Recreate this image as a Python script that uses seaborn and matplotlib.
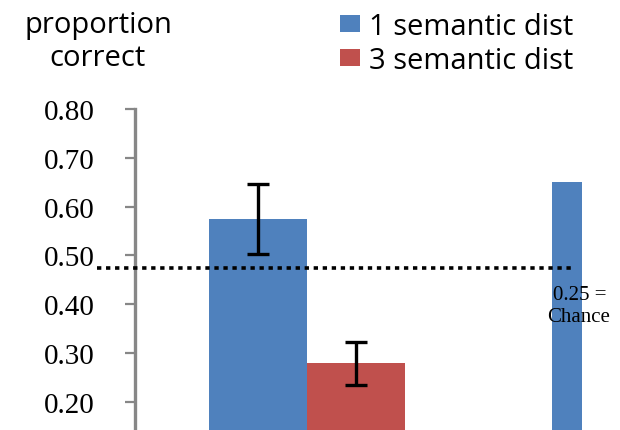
import matplotlib
matplotlib.use("Agg")
import matplotlib.pyplot as plt
import seaborn as sns
import pandas as pd

# ---- data ----
conditions = ["items", "items"]
series = ["1 semantic dist", "3 semantic dist"]
values = [0.575, 0.28]
err_low = [0.503, 0.235]
err_high = [0.646, 0.323]
extra_bar_value = 0.65
chance_line = 0.475
yticks = [0.20, 0.30, 0.40, 0.50, 0.60, 0.70, 0.80]
ytick_labels = ["0.20", "0.30", "0.40", "0.50", "0.60", "0.70", "0.80"]

BLUE = "#4F81BD"
RED = "#C0504D"
GRAY = "#878787"

sns.set_style("white")
plt.rcParams["font.family"] = ["DejaVu Sans"]
plt.rcParams["text.color"] = "black"
plt.rcParams["ytick.labelcolor"] = "black"

df = pd.DataFrame({"cond": conditions, "dist": series, "value": values})

fig = plt.figure(figsize=(6.2, 4.31), dpi=100)
ax = fig.add_axes([135 / 620, 0, (620 - 135) / 620, 321 / 431])

sns.barplot(data=df, x="cond", y="value", hue="dist", palette=[BLUE, RED],
            saturation=1, errorbar=None, width=0.8, gap=0, ax=ax, legend=True,
            linewidth=0)

# narrow extra bar at right
ax.bar([1.061], [extra_bar_value], width=0.122, color=BLUE, linewidth=0, zorder=2)

# error bars
xs = [-0.2, 0.2]
yerr = [[v - lo for v, lo in zip(values, err_low)],
        [hi - v for v, hi in zip(values, err_high)]]
ax.errorbar(xs, values, yerr=yerr, fmt="none", ecolor="black",
            elinewidth=2.4, capsize=8, capthick=2.4, zorder=4)

# dotted chance line
ax.plot([-0.857, 1.095], [chance_line, chance_line], color="black",
        linewidth=2.6, linestyle=(0, (1.2, 1.3)), dash_capstyle="butt",
        clip_on=False, zorder=5)

ax.text(1.112, 0.420, "0.25 =", family="Liberation Serif", fontsize=15,
        ha="center", va="center", color="black", zorder=6)
ax.text(1.110, 0.374, "Chance", family="Liberation Serif", fontsize=15,
        ha="center", va="center", color="black", zorder=6)

ax.set_xlim(-0.702, 1.278)
ax.set_ylim(0.142, 0.80)
ax.set_yticks(yticks)
ax.set_yticklabels(ytick_labels, family="Liberation Serif", fontsize=21, color="black")
ax.set_xticks([])
ax.set_xlabel("")
ax.set_ylabel("")
for s in ["top", "right", "bottom"]:
    ax.spines[s].set_visible(False)
ax.spines["left"].set_color(GRAY)
ax.spines["left"].set_linewidth(2.4)
ax.tick_params(axis="y", direction="out", length=7, width=1.6, color=GRAY,
               pad=22, left=True)

handles, labels = ax.get_legend_handles_labels()
leg = ax.legend(handles, labels, loc="upper left", bbox_to_anchor=(340 / 620, 1 - 13 / 431),
                bbox_transform=fig.transFigure, frameon=False,
                prop={"family": "Open Sans", "size": 21},
                handlelength=0.69, handleheight=0.52, handletextpad=0.3,
                labelspacing=0.17, borderpad=0, borderaxespad=0)
for t in leg.get_texts():
    t.set_color("black")

fig.text(98 / 620, 1 - 26 / 431, "proportion", family="Open Sans", fontsize=21,
         ha="center", va="center", color="black")
fig.text(98 / 620, 1 - 59 / 431, "correct", family="Open Sans", fontsize=21,
         ha="center", va="center", color="black")

fig.savefig("out.png", dpi=100)
